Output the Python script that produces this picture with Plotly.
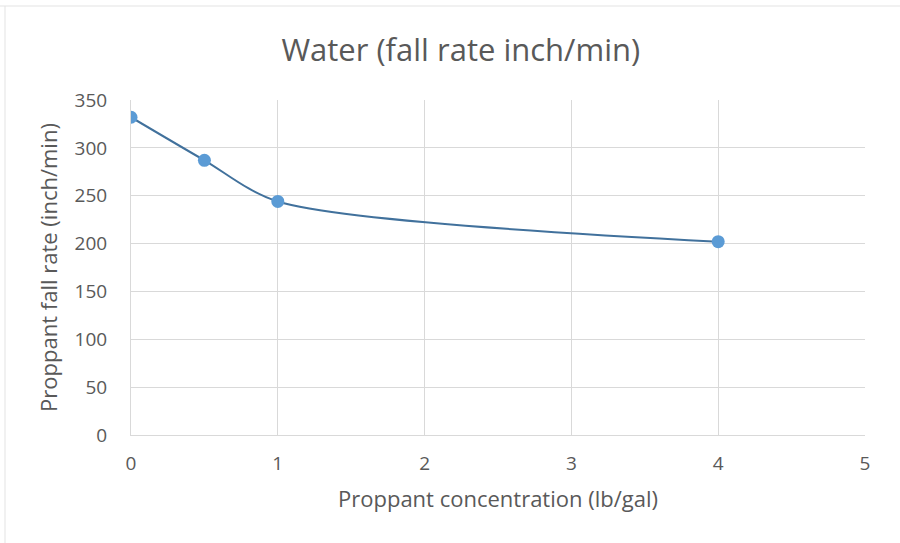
import plotly.graph_objects as go

concentration = [0, 0.5, 1, 4]
fall_rate = [332, 287, 244, 202]

title_text = "Water (fall rate inch/min)"
x_title = "Proppant concentration (lb/gal)"
y_title = "Proppant fall rate (inch/min)"

FONT = "'Open Sans', sans-serif"
GREY = "#595959"

fig = go.Figure()
fig.add_trace(go.Scatter(
    x=concentration, y=fall_rate, mode="lines",
    line=dict(color="#41719C", width=2, shape="spline", smoothing=0.8),
    hoverinfo="skip", showlegend=False,
))
fig.add_trace(go.Scatter(
    x=concentration, y=fall_rate, mode="markers",
    marker=dict(color="#5B9BD5", size=13, line=dict(width=0)),
    showlegend=False,
))

fig.update_layout(
    width=900, height=543,
    paper_bgcolor="white", plot_bgcolor="white",
    margin=dict(l=131, r=35, t=100, b=108),
    font=dict(family=FONT, color=GREY),
    title=dict(text=title_text, x=0.512, xanchor="center", y=0.908, yanchor="middle",
               font=dict(size=31, color=GREY, family=FONT)),
    xaxis=dict(range=[0, 5], dtick=1, tick0=0, showgrid=True, gridcolor="#D9D9D9", gridwidth=1,
               showline=True, linecolor="#D9D9D9", linewidth=1, mirror=False, zeroline=False,
               ticks="", ticklabelstandoff=11, tickfont=dict(size=19, color=GREY),
               title=dict(text=x_title, font=dict(size=22, color=GREY), standoff=16)),
    yaxis=dict(range=[0, 350], dtick=50, tick0=0, showgrid=True, gridcolor="#D9D9D9", gridwidth=1,
               showline=True, linecolor="#D9D9D9", linewidth=1, zeroline=False,
               ticks="", ticklabelstandoff=19, tickfont=dict(size=19, color=GREY),
               title=dict(text=y_title, font=dict(size=22, color=GREY), standoff=10)),
)

# spreadsheet-like chart border lines
fig.add_shape(type="line", xref="paper", yref="paper", x0=-131/734, x1=1+35/734, y0=1+94/335, y1=1+94/335,
              line=dict(color="#E3E3E3", width=1))
fig.add_shape(type="line", xref="paper", yref="paper", x0=-126/734, x1=-126/734, y0=-108/335, y1=1+94/335,
              line=dict(color="#E3E3E3", width=1))

fig.write_html("out.html")
